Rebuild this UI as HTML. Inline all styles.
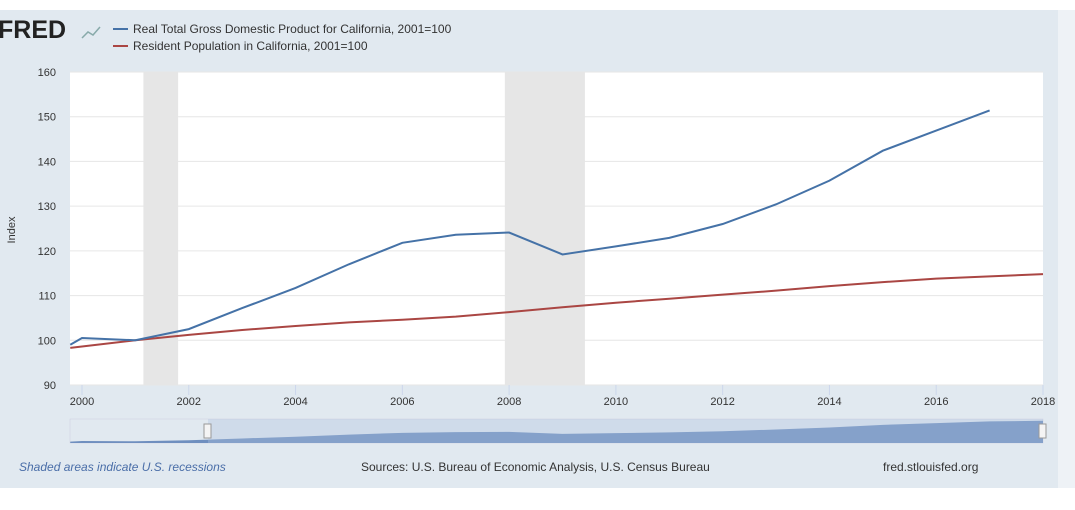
<!DOCTYPE html>
<html><head><meta charset="utf-8"><style>
body{margin:0;width:1075px;height:505px;background:#fff;font-family:"Liberation Sans",sans-serif;overflow:hidden}
</style></head><body>
<svg width="1075" height="505" xmlns="http://www.w3.org/2000/svg" font-family="Liberation Sans, sans-serif">
<rect x="0" y="10" width="1058" height="478" fill="#e1e9f0"/>
<rect x="1058" y="10" width="17" height="478" fill="#eef2f6"/>
<text x="-2" y="38" font-size="25" font-weight="bold" fill="#222">FRED</text>
<polyline points="82,38 88,32 93,35 100,27" fill="none" stroke="#8aa" stroke-width="1.5"/>
<g>
<line x1="113" y1="29" x2="128" y2="29" stroke="#4572a7" stroke-width="2"/>
<text x="133" y="33" font-size="12" fill="#333">Real Total Gross Domestic Product for California, 2001=100</text>
<line x1="113" y1="46" x2="128" y2="46" stroke="#aa4643" stroke-width="2"/>
<text x="133" y="50" font-size="12" fill="#333">Resident Population in California, 2001=100</text>
</g>
<rect x="70" y="72" width="973" height="313" fill="#fff"/>
<g id="rec"></g><g id="grid"></g><g id="lines"></g><g id="axes"></g>
<text transform="translate(15,230) rotate(-90)" text-anchor="middle" font-size="11" fill="#333">Index</text>
<g>
<rect x="70" y="419" width="973" height="24" fill="#e1e9f0" stroke="#ccd" stroke-width="0.5"/>
<path id="navarea" fill="#6f8fbf"/>
<rect x="208" y="419" width="835" height="24" fill="#b0c2e0" opacity="0.35"/>
<rect x="204" y="424" width="7" height="14" fill="#f4f4f4" stroke="#999"/>
<rect x="1039" y="424" width="7" height="14" fill="#f4f4f4" stroke="#999"/>
</g>
<text x="19" y="471" font-size="12" font-style="italic" fill="#4a6ea8">Shaded areas indicate U.S. recessions</text>
<text x="361" y="471" font-size="12" fill="#333">Sources: U.S. Bureau of Economic Analysis, U.S. Census Bureau</text>
<text x="883" y="471" font-size="12" fill="#333">fred.stlouisfed.org</text>
</svg>
<script>
const gdpYears=[1999.78,2000,2001,2002,2003,2004,2005,2006,2007,2008,2009,2010,2011,2012,2013,2014,2015,2016,2017];
const gdpValues=[99,100.5,100,102.5,107.2,111.7,117,121.8,123.6,124.1,119.2,121,122.9,126,130.4,135.7,142.4,146.9,151.4];
const popYears=[1999.78,2000,2001,2002,2003,2004,2005,2006,2007,2008,2009,2010,2011,2012,2013,2014,2015,2016,2017,2018];
const popValues=[98.3,98.6,100,101.2,102.3,103.2,104,104.6,105.3,106.3,107.4,108.4,109.3,110.2,111.1,112.1,113,113.8,114.3,114.8];
const yTicks=[90,100,110,120,130,140,150,160];
const xTicks=[2000,2002,2004,2006,2008,2010,2012,2014,2016,2018];
const recessions=[[2001.15,2001.8],[2007.92,2009.42]];
const NS="http://www.w3.org/2000/svg";
const X=y=>82+(y-2000)*(1043-82)/18;
const Y=v=>385-(v-90)*(313/70);
function mk(t,a,p){const e=document.createElementNS(NS,t);for(const k in a)e.setAttribute(k,a[k]);document.getElementById(p).appendChild(e);return e;}
recessions.forEach(r=>{const e=mk('rect',{x:X(r[0]),y:72,width:X(r[1])-X(r[0]),height:313,fill:'#e6e6e6'},'rec');

});
yTicks.forEach(v=>{const l=mk('line',{x1:70,x2:1043,y1:Y(v),y2:Y(v),stroke:'#e6e6e6'},'grid');


const t=mk('text',{x:56,y:Y(v)+4,'text-anchor':'end','font-size':11,fill:'#333'},'axes');t.textContent=v;

});
xTicks.forEach(v=>{const l=mk('line',{x1:X(v),x2:X(v),y1:385,y2:395,stroke:'#ccd6eb'},'axes');


const t=mk('text',{x:X(v),y:405,'text-anchor':'middle','font-size':11,fill:'#333'},'axes');t.textContent=v;

});
function line(xs,vs,c,n){const p=mk('polyline',{points:xs.map((x,i)=>Math.max(70,X(x))+','+Y(vs[i])).join(' '),fill:'none',stroke:c,'stroke-width':2},'lines');

}
line(popYears,popValues,'#aa4643','population-line');
line(gdpYears,gdpValues,'#4572a7','gdp-line');
const NY=v=>442-(v-98)*(22/57);
let d='M'+Math.max(70,X(gdpYears[0]))+',443 ';gdpYears.forEach((y,i)=>d+='L'+Math.max(70,X(y))+','+NY(gdpValues[i])+' ');d+='L1043,'+NY(153)+' L1043,443 Z';
document.getElementById('navarea').setAttribute('d',d);
</script>
</body></html>
